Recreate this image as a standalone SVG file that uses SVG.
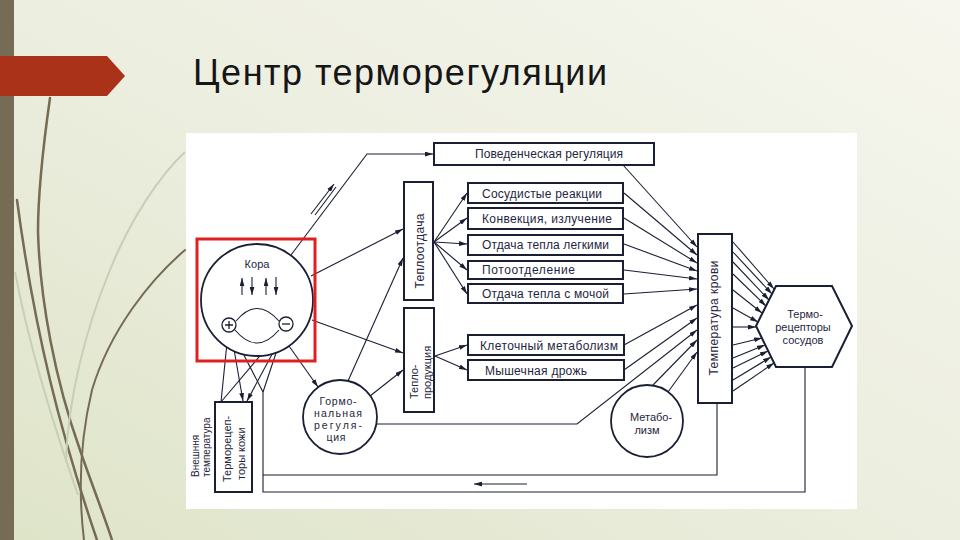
<svg xmlns="http://www.w3.org/2000/svg" width="960" height="540" viewBox="0 0 960 540">
<defs>
<linearGradient id="bg" x1="1" y1="0" x2="0" y2="1">
<stop offset="0" stop-color="#f6f6ee"/>
<stop offset="0.5" stop-color="#eceedf"/>
<stop offset="1" stop-color="#dee4c8"/>
</linearGradient>
<marker id="ah" viewBox="0 0 10 6" refX="10" refY="3" markerWidth="8" markerHeight="5" orient="auto" markerUnits="userSpaceOnUse"><path d="M0,0 L10,3 L0,6 Z" fill="#1a1f33"/></marker>
<style>
.ln{fill:none;stroke:#1a1f33;stroke-width:1.1}
.ar{marker-end:url(#ah)}
.bx{fill:#fff;stroke:#1a1f33;stroke-width:2}
.cr{fill:#fff;stroke:#1a1f33;stroke-width:1.8}
.t{font-family:"Liberation Sans",Arial,sans-serif;font-size:12px;fill:#1e2640}
.s{font-size:11px}
.xs{font-size:10px}
.h{font-size:10.5px}
.deco{fill:none;stroke:#766b55;stroke-linecap:round}
</style>
</defs>
<rect width="960" height="540" fill="url(#bg)"/>
<rect x="0" y="0" width="14" height="540" fill="#766b55"/>
<g id="decoration">
<path class="deco" d="M50,98 C44,140 38,190 38,232 C40,300 55,380 80,450 C92,485 104,515 112,540" stroke-width="2.5"/>
<path class="deco" d="M17,200 C25,260 38,330 50,380 C62,430 80,490 97,540" stroke-width="2.5"/>
<path class="deco" d="M185,250 C150,280 110,330 92,390 C80,440 78,490 84,540" stroke-width="2"/>
<path d="M185,152 C160,175 130,220 110,270 C85,330 68,400 66,460" fill="none" stroke="#c9ceb6" stroke-width="2"/>
<path d="M15,272 C30,350 55,430 78,495" fill="none" stroke="#c9ceb6" stroke-width="2"/>
</g>
<path d="M0,56 L107,56 L125,76 L107,96 L0,96 Z" fill="#a93218"/>
<text x="193" y="85" font-family="Liberation Sans, Arial, sans-serif" font-size="36" fill="#161616" textLength="414">Центр терморегуляции</text>
<rect x="186" y="133" width="671" height="376" fill="#ffffff"/>
<g id="connectors">
<path class="ln ar" d="M291,255 L367,154 L433,154"/>
<path class="ln ar" d="M311,214 L334,184"/>
<path class="ln" d="M315,215 L336,187"/>
<path class="ln ar" d="M311,276 L403,229"/>
<path class="ln ar" d="M312,320 L403,353"/>
<path class="ln ar" d="M289,346 L318,387"/>
<path class="ln ar" d="M348,381 L403,258"/>
<path class="ln ar" d="M370,396 L403,370"/>
<path class="ln ar" d="M377,424 L577,424 L697,330"/>
<path class="ln ar" d="M434,242 L467,193"/>
<path class="ln ar" d="M434,242 L467,218"/>
<path class="ln ar" d="M434,242 L467,244"/>
<path class="ln ar" d="M434,242 L467,270"/>
<path class="ln ar" d="M434,242 L467,294"/>
<path class="ln ar" d="M435,356 L467,345"/>
<path class="ln ar" d="M435,356 L467,370"/>
<path class="ln ar" d="M623,165 L697,247"/>
<path class="ln ar" d="M624,193 L697,255"/>
<path class="ln ar" d="M624,218 L697,263"/>
<path class="ln ar" d="M624,244 L697,271"/>
<path class="ln ar" d="M624,270 L697,279"/>
<path class="ln ar" d="M624,294 L697,289"/>
<path class="ln ar" d="M624,345 L697,305"/>
<path class="ln ar" d="M624,370 L697,318"/>
<path class="ln ar" d="M653,385 L697,340"/>
<path class="ln ar" d="M668,392 L697,352"/>
<path class="ln ar" d="M733,242 L774,289"/>
<path class="ln ar" d="M733,252 L772,294"/>
<path class="ln ar" d="M733,262 L769,300"/>
<path class="ln ar" d="M733,274 L766,306"/>
<path class="ln ar" d="M733,290 L762,313"/>
<path class="ln ar" d="M733,308 L758,322"/>
<path class="ln ar" d="M733,327 L756,327"/>
<path class="ln ar" d="M733,345 L762,338"/>
<path class="ln ar" d="M733,358 L765,345"/>
<path class="ln ar" d="M733,368 L768,351"/>
<path class="ln ar" d="M733,380 L771,357"/>
<path class="ln ar" d="M733,391 L774,363"/>
<path class="ln" d="M717,403 L717,475 L263,475"/>
<path class="ln" d="M805,367 L805,492 L263,492 L263,392"/>
<path class="ln ar" d="M527,484 L474,484"/>
<path class="ln ar" d="M263,392 L232,332"/>
<path class="ln ar" d="M263,392 L283,332"/>
<path class="ln ar" d="M221,402 L228,333"/>
<path class="ln ar" d="M221,402 L281,331"/>
<path class="ln ar" d="M231,332 L243,401"/>
<path class="ln ar" d="M284,332 L247,401"/>
</g>
<g id="kora">
<circle class="cr" cx="257" cy="300" r="56"/>
<text class="t s" x="257" y="268" text-anchor="middle">Кора</text>
<path class="ln ar" d="M242,295 L242,278"/>
<path class="ln ar" d="M252,277 L252,295"/>
<path class="ln ar" d="M266,295 L266,278"/>
<path class="ln ar" d="M276,277 L276,295"/>
<path class="ln" d="M236,321 Q257,296 279,321"/>
<path class="ln" d="M235,330 Q257,356 279,330"/>
<circle cx="229" cy="325" r="7" fill="#fff" stroke="#1a1f33" stroke-width="1.3"/>
<path d="M225,325 L233,325 M229,321 L229,329" stroke="#1a1f33" stroke-width="1.3"/>
<circle cx="286" cy="324" r="7" fill="#fff" stroke="#1a1f33" stroke-width="1.3"/>
<path d="M282,324 L290,324" stroke="#1a1f33" stroke-width="1.3"/>
</g>
<g id="behavioral">
<rect class="bx" x="434" y="143" width="220" height="22"/>
<text class="t" x="475" y="158" textLength="148">Поведенческая регуляция</text>
</g>
<g id="heat-loss">
<rect class="bx" x="404" y="182" width="29" height="118"/>
<text class="t" transform="translate(424,251) rotate(-90)" text-anchor="middle" textLength="75">Теплоотдача</text>
</g>
<g id="heat-production">
<rect class="bx" x="404" y="308" width="30" height="104"/>
<text class="t s" transform="translate(418,399) rotate(-90)">Тепло-</text>
<text class="t s" transform="translate(431,399) rotate(-90)">продукция</text>
</g>
<g id="vascular">
<rect class="bx" x="468" y="183" width="155" height="20"/>
<text class="t" x="482" y="198" textLength="120">Сосудистые реакции</text>
</g>
<g id="convection">
<rect class="bx" x="468" y="208" width="155" height="21"/>
<text class="t" x="482" y="223" textLength="130">Конвекция, излучение</text>
</g>
<g id="lungs">
<rect class="bx" x="468" y="235" width="155" height="20"/>
<text class="t" x="482" y="249" textLength="127">Отдача тепла легкими</text>
</g>
<g id="sweat">
<rect class="bx" x="468" y="261" width="155" height="18"/>
<text class="t" x="482" y="274" textLength="93">Потоотделение</text>
</g>
<g id="urine">
<rect class="bx" x="468" y="284" width="155" height="19"/>
<text class="t" x="482" y="298" textLength="127">Отдача тепла с мочой</text>
</g>
<g id="cell-metabolism">
<rect class="bx" x="468" y="335" width="156" height="20"/>
<text class="t" x="480" y="350" textLength="138">Клеточный метаболизм</text>
</g>
<g id="shivering">
<rect class="bx" x="468" y="360" width="156" height="20"/>
<text class="t" x="485" y="375" textLength="102">Мышечная дрожь</text>
</g>
<g id="blood-temperature">
<rect class="bx" x="698" y="234" width="34" height="169"/>
<text class="t" transform="translate(718,318) rotate(-90)" text-anchor="middle" textLength="115">Температура крови</text>
</g>
<g id="vessel-thermoreceptors">
<polygon class="bx" points="776,286 832,286 852,326 832,367 776,367 756,326"/>
<text class="t s" x="805" y="318" text-anchor="middle">Термо-</text>
<text class="t s" x="803" y="331" text-anchor="middle">рецепторы</text>
<text class="t s" x="803" y="344" text-anchor="middle">сосудов</text>
</g>
<g id="hormonal">
<circle class="cr" cx="340" cy="417" r="37"/>
<text class="t h" x="338" y="405" text-anchor="middle" textLength="37">Гормо-</text>
<text class="t h" x="338" y="417" text-anchor="middle" textLength="48">нальная</text>
<text class="t h" x="338" y="429" text-anchor="middle" textLength="48">регуля-</text>
<text class="t h" x="336" y="441" text-anchor="middle" textLength="19">ция</text>
</g>
<g id="metabolism">
<circle class="cr" cx="647" cy="421" r="36"/>
<text class="t s" x="651" y="421" text-anchor="middle">Метабо-</text>
<text class="t s" x="647" y="434" text-anchor="middle">лизм</text>
</g>
<g id="skin-thermoreceptors">
<rect class="bx" x="215" y="402" width="37" height="90"/>
<text class="t s" transform="translate(231,482) rotate(-90)">Терморецеп-</text>
<text class="t s" transform="translate(245,480) rotate(-90)">торы кожи</text>
</g>
<g id="external-temperature">
<text class="t xs" transform="translate(199,477) rotate(-90)">Внешння</text>
<text class="t xs" transform="translate(210,477) rotate(-90)">температура</text>
</g>
<rect x="197" y="239" width="118" height="122" fill="none" stroke="#e02020" stroke-width="3"/>
</svg>
